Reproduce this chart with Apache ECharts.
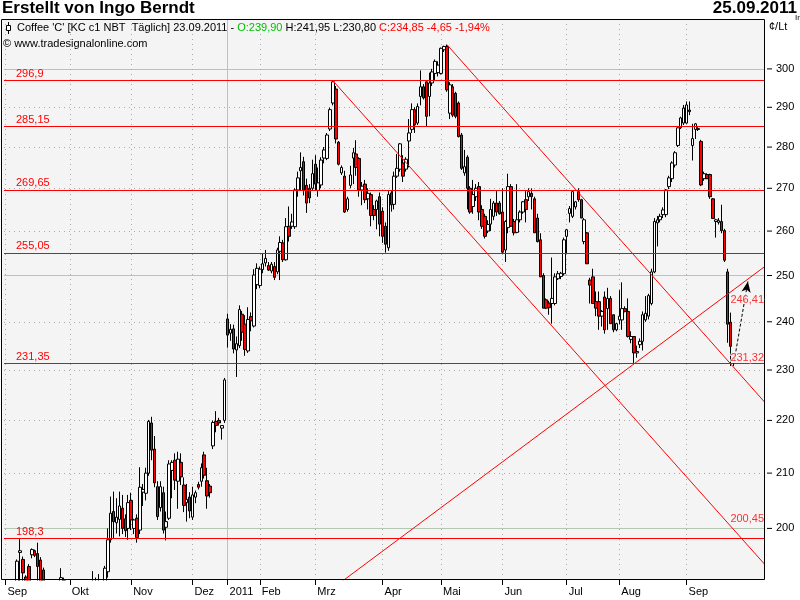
<!DOCTYPE html>
<html><head><meta charset="utf-8">
<script src="https://cdn.jsdelivr.net/npm/echarts@6/dist/echarts.min.js"></script>
<style>html,body{margin:0;padding:0;background:#fff}#c{width:800px;height:600px}</style>
</head><body><div id="c"></div>
<script>
// ---- Daily candles per month: [open, high, low, close] (US cents / lb) ----
const sep10 = [[183,186,181,185],[185,188,183,187],[187,190,185,188.5],[188.5,190.5,186,189.5],[189,194.6,188,194.3],
  [195.8,198.3,190,196.1],[194.6,195.1,189.5,192.3],[191.6,191.9,188,189.5],[193.4,193.8,189,190],[195.4,196.5,194.8,196.3],
  [196.1,196.3,195,195.3],[195.6,197.5,190,193.4],[194.5,195,188,189],[192.8,193.2,187,188],[188,189,185,186],
  [186,188,184,187],[187,189,185,185.5],[185.5,187,183,186.5],[186.5,188.5,185,188],[188,193.1,187,191.5],
  [191,191.5,186,187],[187,188,184,185]];
const okt10 = [[185,187,182,183],[183,185,180,184],[184,186,181,182],[182,184,179,180],[180,183,178,182],
  [182,185,180,184],[184,187,182,186],[186,189,184,188],[188,192.6,186,189],[189,191.5,187,190.5],
  [190.5,192.1,188,189],[189,190.5,187,190],[190,193.5,189,193.1],[192.5,200,191.5,198],[198,205.7,197.5,202.7],
  [203,206.6,198.2,201.2],[201,205.4,199.1,202],[201.6,206.6,198.6,204],[203.6,206,199,200],[201.7,202.5,198.5,199.6],
  [200,206,198,204.6]];
const nov10 = [[205,206.4,199.7,201.5],[200,201.7,199,201.5],[201.8,202.5,197.5,198.4],[199.7,211.1,199,207.4],[206.5,208,204,207],
  [206.3,211,205,210],[210,220.1,209.5,219.8],[219.5,220.7,212.4,214.3],[214.5,217,207.4,208.2],[207.5,208.5,201.5,202.1],
  [203.7,208.5,203,207.5],[206.4,207.5,199.1,199.7],[200.2,203,197.9,201.2],[201.8,212.4,201.5,211.7],[210.5,212.4,205.4,212],
  [212.4,213.7,206.9,208.7],[208.5,214,203.5,212.6],[212,213.7,207.8,209.3],[207.8,209.2,202.9,204.1],[204.6,208,201.2,205.2],
  [205.6,206.5,201.8,203.1]];
const dez10 = [[202,207.5,201.5,206],[205.6,206.8,204.5,206.4],[207.9,208.4,207,207.4],[208.5,211.8,207.5,211],[213.4,214,209,209.6],
  [208.6,211,203.5,205.8],[207.6,208,205.5,206.4],[215.1,220,214.5,219.6],[219.8,221.8,217.7,219],[220,220.5,219,219.5],
  [218.5,219,216.3,219],[220,228.4,219.5,228]];
const jan11 = [[240.6,241.7,234.6,237.2],[237.6,239.5,236,238.4],[238.5,239.4,233.4,234.3],[234.1,236.9,228.6,235.4],[235,243.5,234.5,242.6],
  [241.6,242.3,236,237.8],[239.5,241.4,232.9,234.2],[233.9,243.1,233.5,240.5],[241.1,242,238,240.2],[239.1,251.4,238.8,250.1],
  [248,252.7,247,251.6]];
const feb11 = [[247.8,252,247.2,251.4],[251.3,254.9,250.5,252.6],[252.8,255.7,252,253.8],[252.2,253,251,251.2],[251,253,250.5,252.5],
  [252,253,249,249.6],[250.8,256.2,250.3,255.7],[255.4,258.8,249,257.4],[257.3,258,253,253.5],[253.5,263,253.3,261],
  [261.1,265.7,257.6,258.8],[261.1,264,260.5,262.1],[261,270,260.5,269.6],[269.6,274,268,272.5],[274.2,278.7,269.6,275],
  [276.4,277.6,268.3,269.6],[270.7,272.3,264.2,266.5],[270,271,266.5,267.7],[270,276.9,269.5,273.5]];
const mrz11 = [[275.8,278,269.5,271],[269.5,275,268,271.3],[270.8,277.5,270,276.8],[277.3,280,276,279.3],[277.2,283.5,276.8,283],
  [284.5,289.9,284,289.4],[291.1,296.9,290.5,296.6],[294.7,295.5,280.9,282],[281.2,281.5,275.5,275.8],[273.7,275.5,273.2,275],
  [272.9,274.2,264.2,264.4],[265,268,264.5,267.5],[270.7,275.4,270,273.2],[277.3,279.8,271,278.6],[278.3,281.7,273,275],
  [277.2,277.5,268,269.6],[269.6,271.5,266,270.5],[271,272,266.5,267.3],[267.5,270,265,268.8],[268.5,269,261.1,263.6],
  [265,266,262.5,263.6],[265,267.3,260.4,267],[268,269,258.8,261.6]];
const apr11 = [[264.6,265.5,257.3,258.8],[261.1,262,255.1,257],[256.2,269.6,255.5,268.5],[268.9,269.5,264.5,266.1],[266.2,274,265,272.9],
  [272.9,278.3,272.5,274.8],[274.6,281,274,280.8],[276.1,278,271.5,272.9],[274.6,277.5,274,277],[281.5,287,275,283.5],
  [284.4,291,283.5,289.4],[289.4,290,283.5,285.5],[286,291,285.5,290.2],[292.8,299.6,290.5,295.3],[295.3,296,292,292.4],
  [296.6,297,285.2,287.7],[292.8,299,287.7,296.3],[296.3,300,295.5,299.2],[298.8,302.5,297,302],[299,302,298,301]];
const mai11 = [[298.8,305.7,298.5,305.5],[305.1,306.2,304.5,306],[306,306.5,294,294.5],[288.5,296.5,287,295.8],[295.3,296,287.5,288],
  [293.6,294,287.2,287.7],[291.1,291.5,282.4,282.6],[283,283.5,274.4,274.8],[273.7,279.3,273,275.2],[277.5,278,265,270],
  [270,270.5,264,264.4],[265.7,272,264,268.5],[268,271,267,270],[270.4,271.5,262.5,264.4],[265,266,260.5,261.1],
  [263.4,264,258.3,258.8],[260,262.5,259.5,261.5],[261.6,267.5,260,265],[263.4,267,262.5,266.5],[266.5,269.5,263.5,264.4],
  [266.5,267,263.8,264]];
const jun11 = [[264.4,270,255,255.2],[255.7,262.5,253,262.2],[260.8,273.5,259.5,270.4],[270.4,271,261,261.1],[262.2,262.8,259,259.6],
  [259.7,271,259.5,262.6],[262.6,264.8,262,264.4],[264.4,267,264,266.8],[267.3,269.5,262,265],[268,270,267,269.2],
  [268.8,270,265,268],[267.5,268,259.6,259.6],[263,264,257.4,257.6],[258,259.5,249.7,249.7],[250,250.5,242.9,242.9],
  [244.7,245,242.7,242.9],[244,244.5,241.5,243],[243.9,254,239.6,245],[243.9,250.5,243.5,249.7],[249.3,251,249,250.4],
  [249.8,250.8,249.2,250.5],[250.4,258.5,250,258]];
const jul11 = [[258.8,260.5,255,260.3],[264.1,265.8,262,265.2],[263.4,269.5,263,269.2],[265.6,267,265,266.8],[269.2,270,266.8,267.3],
  [267.3,267.5,263,263],[257.6,263,257,262.6],[259.6,259.8,252.6,252.6],[249,249.5,243.9,247.9],[249.7,251.5,243.9,243.9],
  [244.3,246.5,241.2,242.9],[244.3,246.5,238.3,241.2],[241.2,242.5,239,242.2],[245.3,246.5,237.5,238.3],[242.8,247.3,238.3,245],
  [245,245.5,239.6,239.6],[241.5,241.5,237.8,238.3],[238.3,239.8,238,239.6]];
const aug11 = [[240.4,246.8,239.5,241.2],[240.4,248.5,238.3,242.8],[242.8,243.3,242,242.2],[242.2,245,236.7,236.9],[236.3,238,235.5,236.9],
  [236.9,236.9,231.3,233.5],[233.5,235,232.5,233.8],[235.2,236.5,234.5,235.9],[235.9,242.2,234,241.5],[240.4,245.5,240,241.8],
  [241.2,246,240.5,245.6],[243.9,251.5,243.5,250.8],[250.8,263,250.5,262.2],[261.9,263.5,256.5,262.6],[262.6,264,262,263.4],
  [263.8,265.5,263,264.9],[263.8,269.8,263.2,269.6],[270.4,273,269.8,272.5],[272.3,276.5,271.5,276.1],[275.6,279,275,278.6],
  [280.4,285.2,280,284.8],[284.8,287.6,284.5,287.3],[286,290.6,285.5,289.8]];
const sep11 = [[286,291.5,285.8,290.6],[289.3,291.5,288,288.9],[280.4,285.8,276.7,282.1],[284.4,286,282,285.8],[284.6,285,284,284.4],
  [281.4,281.8,270.5,270.8],[272.3,274,271.8,273.5],[273.3,273.6,272.2,272.3],[273.3,273.5,267.5,268],[267.5,267.7,262.9,262.9],
  [262.2,262.8,258.5,262.6],[262,263,261.5,262.4],[262.2,266.1,259.5,260.1],[260.1,260.5,253,253.4],[250.8,251.5,235.6,239.5],
  [239.9,241.95,230.8,234.85]];

const monthNames = ['Sep','Okt','Nov','Dez','2011','Feb','Mrz','Apr','Mai','Jun','Jul','Aug','Sep'];
const emptySlotsAfter = 11;
const lastDate = '23.09.2011';
const yTicks = [200,210,220,230,240,250,260,270,280,290,300];
const yMajorTicks = [200,250,300];
const levels = [296.9,285.15,269.65,255.05,231.35,198.3];
// trend lines as [[slot, price],[slot, price]]
const trendDown1 = [[151,306.5],[270,217.0]];
const trendDown2 = [[112,296.9],[270,188.1]];
const trendUp = [[100,185.4],[270,257.0]];
const trendValues = [[248,246.41],[248,231.32],[248,200.45]];
const arrowPts = [[249,230.8],[254,248.7]];

// ---- build ----
const FONT = "'Liberation Sans', Arial, sans-serif";
const monthData = [sep10,okt10,nov10,dez10,jan11,feb11,mrz11,apr11,mai11,jun11,jul11,aug11,sep11];
const categories = [], ohlc = [], monthStart = [];
monthData.forEach(m => { monthStart.push(ohlc.length); m.forEach(d => { categories.push(String(ohlc.length)); ohlc.push([d[0], d[3], d[2], d[1]]); }); });
for (let k = 0; k < emptySlotsAfter; k++) categories.push(String(categories.length));
const labelAt = {}; monthStart.forEach((s, k) => labelAt[s] = monthNames[k]);
const yearIdx = monthStart[4];
const de = v => String(v).replace('.', ',');
const de2 = v => v.toFixed(2).replace('.', ',');

const last = sep11[sep11.length - 1], prevC = sep11[sep11.length - 2][3];
const chg = last[3] - prevC, pct = chg / prevC * 100;

const gridLineData = [];
yTicks.forEach(v => {
  const major = yMajorTicks.includes(v);
  gridLineData.push({ yAxis: v, lineStyle: { color: major ? '#b4c6b4' : '#a9a9a9', type: major ? 'solid' : [1, 4], width: 1 },
    label: { show: true, position: 'end', distance: 3, formatter: () => '{t|}{v|' + v + '}',
      rich: { t: { width: 5, height: 1, backgroundColor: '#000' }, v: { fontSize: 11, fontFamily: FONT, color: '#000', padding: [0, 0, 0, 4] } } } });
});
monthStart.forEach(s => {
  const yr = s === yearIdx;
  gridLineData.push({ xAxis: s, lineStyle: { color: yr ? '#b4c6b4' : '#a9a9a9', type: yr ? 'solid' : [1, 4], width: 1 }, label: { show: false } });
});

const chart = echarts.init(document.getElementById('c'), null, { renderer: 'canvas' });
chart.setOption({
  animation: false,
  backgroundColor: '#ffffff',
  grid: { left: 4, right: 36, top: 19, bottom: 20, show: false },
  xAxis: {
    type: 'category', data: categories, boundaryGap: true, z: 150,
    axisLine: { show: false },
    axisTick: { show: true, alignWithLabel: true, length: 5, interval: i => labelAt[i] !== undefined, lineStyle: { color: '#000' } },
    axisLabel: { show: true, interval: i => labelAt[i] !== undefined, formatter: (v, i) => labelAt[i] || '', align: 'left',
      margin: 6, padding: [0, 0, 0, 2], fontSize: 11, fontFamily: FONT, color: '#000' },
    splitLine: { show: false }
  },
  yAxis: {
    type: 'log', logBase: 10, min: 191.1, max: 313.5, position: 'right',
    axisLine: { show: false }, axisTick: { show: false }, axisLabel: { show: false }, splitLine: { show: false }
  },
  graphic: [
    { type: 'rect', z: -10, silent: true, shape: { x: 2.5, y: 19.5, width: 762, height: 560 }, style: { fill: '#f4f4f4', stroke: null } },
    { type: 'rect', z: 90, silent: true, shape: { x: 0, y: 580.5, width: 800, height: 20 }, style: { fill: '#ffffff', stroke: null } },
    { type: 'rect', z: 100, silent: true, shape: { x: 1.5, y: 19.5, width: 763, height: 560 }, style: { fill: null, stroke: '#000', lineWidth: 1 } },
    { type: 'text', left: 2, top: 0, silent: true, style: { text: 'Erstellt von Ingo Berndt', font: "bold 17px 'Liberation Sans', Arial, sans-serif", fill: '#000' } },
    { type: 'text', right: 3, top: 0, silent: true, style: { text: '25.09.2011', font: "bold 17px 'Liberation Sans', Arial, sans-serif", fill: '#000' } },
    { type: 'text', x: 795, y: 14, silent: true, style: { text: 'In', font: "8px 'Liberation Sans', Arial, sans-serif", fill: '#000' } },
    { type: 'text', x: 769, y: 21, silent: true, style: { text: '¢/Lt', font: "11px 'Liberation Sans', Arial, sans-serif", fill: '#000' } },
    { type: 'line', z: 101, silent: true, shape: { x1: 8.5, y1: 22, x2: 8.5, y2: 34 }, style: { stroke: '#000', lineWidth: 1 } },
    { type: 'rect', z: 102, silent: true, shape: { x: 6.5, y: 25.5, width: 4, height: 5 }, style: { fill: '#fff', stroke: '#000', lineWidth: 1 } },
    { type: 'text', x: 17, y: 22, z: 101, silent: true, style: {
      text: '{b|Coffee \'C\' [KC c1 NBT  Täglich] ' + lastDate + ' - }{g|O:' + de2(last[0]) + '}{b| H:' + de2(last[1]) + ' L:' + de2(last[2]) +
        ' }{r|C:' + de2(last[3]) + ' ' + de2(chg) + ' ' + de2(pct) + '%}',
      rich: { b: { fontSize: 11, fontFamily: FONT, fill: '#000' }, g: { fontSize: 11, fontFamily: FONT, fill: '#00c000' }, r: { fontSize: 11, fontFamily: FONT, fill: '#ff0000' } } } },
    { type: 'text', x: 3, y: 38, z: 101, silent: true, style: { text: '© www.tradesignalonline.com', font: "11px 'Liberation Sans', Arial, sans-serif", fill: '#000' } }
  ],
  series: [
    { type: 'line', data: [], silent: true, markLine: { silent: true, z: 1, symbol: ['none', 'none'], animation: false, data: gridLineData } },
    { type: 'candlestick', z: 2, data: ohlc, barWidth: 3, silent: true,
      itemStyle: { color: '#ffffff', color0: '#ff0000', borderColor: '#000000', borderColor0: '#000000', borderWidth: 1 } },
    { type: 'line', data: [], silent: true, markLine: { silent: true, z: 3, symbol: ['none', 'none'], animation: false,
      lineStyle: { color: '#ff0000', width: 1, type: 'solid' },
      label: { show: true, position: 'insideStartTop', distance: [12, 1], formatter: p => de(p.value), color: '#ff0000', fontSize: 11, fontFamily: FONT },
      data: levels.map(v => ({ yAxis: v })) } },
    ...[trendDown1, trendDown2, trendUp].map(t => ({ type: 'line', z: 3, data: t, symbol: 'none', clip: true, silent: true,
      lineStyle: { color: '#ff0000', width: 1 } })),
    { type: 'line', data: [], silent: true, markLine: { silent: true, z: 4, symbol: ['none', 'arrow'], symbolSize: [7, 11], animation: false,
      lineStyle: { color: '#000', width: 1, type: [3, 2] }, label: { show: false },
      data: [[{ coord: arrowPts[0] }, { coord: arrowPts[1] }]] } },
    { type: 'scatter', z: 5, symbolSize: 0, silent: true, data: trendValues,
      label: { show: true, position: 'right', distance: 0, formatter: p => de2(p.value[1]), color: '#ff0000', fontSize: 11, fontFamily: FONT,
        textBorderColor: '#f4f4f4', textBorderWidth: 2 },
      labelLayout: p => ({ dy: [8, -6, -7][p.dataIndex] }) }
  ]
});
</script>
</body></html>
